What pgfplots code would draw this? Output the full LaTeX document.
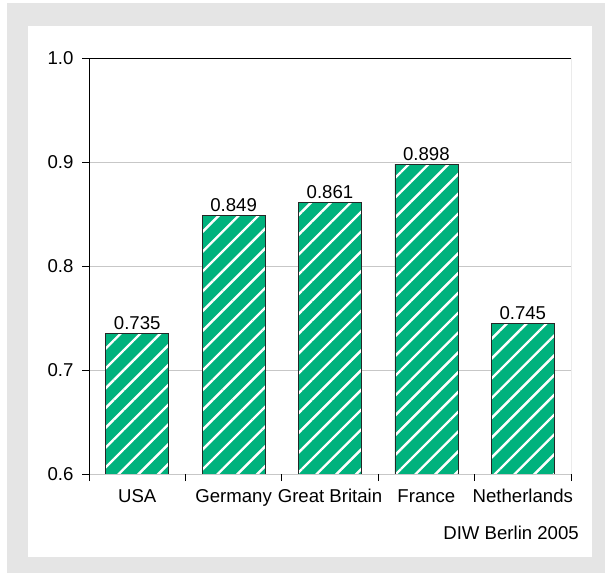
\documentclass[border=0pt]{standalone}
\usepackage{pgfplots}
\pgfplotsset{compat=1.18}
\usepackage{fontspec}
\setmainfont{Liberation Sans}
\usetikzlibrary{patterns.meta}
\definecolor{barg}{RGB}{0,178,125}
\definecolor{bgg}{RGB}{229,229,229}
\newcommand\lbl{\fontsize{18.6bp}{21bp}\selectfont}
\begin{document}
\begin{tikzpicture}
\useasboundingbox (0,0) rectangle (605bp,573bp);
\fill[bgg] (7bp,0) rectangle (605bp,570bp);
\fill[white] (28bp,16bp) rectangle (592bp,547bp);
\begin{axis}[
  at={(89bp,99bp)}, anchor=south west,
  scale only axis, width=482bp, height=416bp,
  xmin=-0.5, xmax=4.5, ymin=0.6, ymax=1.0,
  axis line style={draw=none},
  xtick={0,1,2,3,4},
  xticklabels={USA,Germany,Great Britain,France,Netherlands},
  minor xtick={-0.5,0.5,1.5,2.5,3.5,4.5},
  major x tick style={draw=none},
  minor tick length=7bp, major tick length=7bp,
  ytick={0.6,0.7,0.8,0.9,1.0},
  yticklabels={0.6,0.7,0.8,0.9,1.0},
  tick pos=left, tick align=outside,
  tick style={black, line width=0.8bp},
  ymajorgrids, grid style={color=black!22, line width=0.8bp},
  every tick label/.append style={font=\lbl},
  xticklabel style={yshift=-5bp},
  yticklabel style={xshift=-5bp},
  ybar, bar width=63bp,
  point meta=explicit symbolic,
  nodes near coords,
  every node near coord/.append style={font=\lbl, inner sep=3.5bp},
]
\addplot[fill=barg, draw=black!85, line width=0.7bp,
  postaction={pattern={Lines[angle=45,distance=14bp,line width=2.4bp]}, pattern color=white}]
  coordinates {(0,0.735) [0.735] (1,0.849) [0.849] (2,0.861) [0.861] (3,0.898) [0.898] (4,0.745) [0.745]};
\draw[black, line width=0.8bp] (rel axis cs:0,0) -- (rel axis cs:0,1) -- (rel axis cs:1,1);
\draw[black!60, line width=0.8bp] (rel axis cs:1,1) -- (rel axis cs:1,0);
\draw[black, line width=0.8bp] (rel axis cs:0,0) -- (rel axis cs:1,0);
\end{axis}
\node[anchor=base east, font=\lbl, inner sep=0] at (579bp,34bp) {DIW Berlin 2005};
\end{tikzpicture}
\end{document}
